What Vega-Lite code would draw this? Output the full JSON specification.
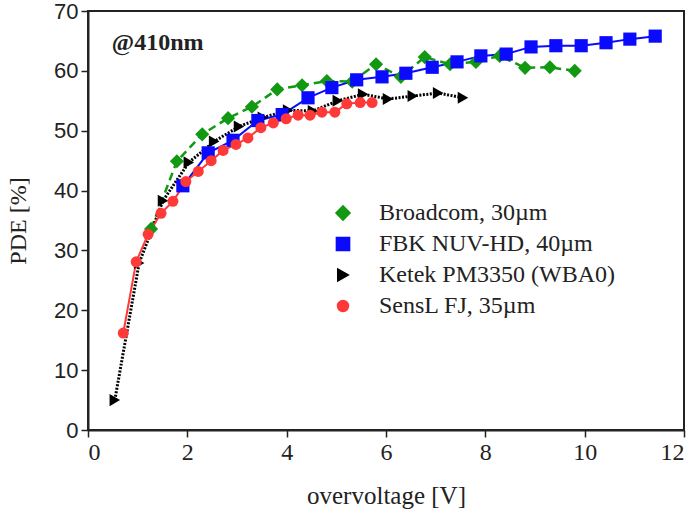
{
  "$schema": "https://vega.github.io/schema/vega-lite/v6.json",
  "width": 596,
  "height": 419,
  "autosize": "none",
  "padding": {"left": 88, "top": 11, "right": 13, "bottom": 87},
  "background": "white",
  "config": {
    "view": {"stroke": "#222", "strokeWidth": 2},
    "axis": {"grid": false, "domainColor": "#222", "domainWidth": 2, "tickColor": "#222", "tickWidth": 1.5, "tickSize": 7, "labelColor": "#222", "titleColor": "#222", "titleFontWeight": "normal"}
  },
  "layer": [
    {
      "data": {"name": "pts", "values": [
    {"s": "Broadcom, 30µm", "x": 1.27, "y": 33.6},
    {"s": "Broadcom, 30µm", "x": 1.79, "y": 44.9},
    {"s": "Broadcom, 30µm", "x": 2.3, "y": 49.4},
    {"s": "Broadcom, 30µm", "x": 2.82, "y": 52.1},
    {"s": "Broadcom, 30µm", "x": 3.3, "y": 54.0},
    {"s": "Broadcom, 30µm", "x": 3.81, "y": 56.9},
    {"s": "Broadcom, 30µm", "x": 4.31, "y": 57.6},
    {"s": "Broadcom, 30µm", "x": 4.81, "y": 58.3},
    {"s": "Broadcom, 30µm", "x": 5.32, "y": 58.2},
    {"s": "Broadcom, 30µm", "x": 5.8, "y": 61.1},
    {"s": "Broadcom, 30µm", "x": 6.3, "y": 59.0},
    {"s": "Broadcom, 30µm", "x": 6.78, "y": 62.3},
    {"s": "Broadcom, 30µm", "x": 7.29, "y": 61.1},
    {"s": "Broadcom, 30µm", "x": 7.81, "y": 61.5},
    {"s": "Broadcom, 30µm", "x": 8.29, "y": 62.5},
    {"s": "Broadcom, 30µm", "x": 8.8, "y": 60.5},
    {"s": "Broadcom, 30µm", "x": 9.3, "y": 60.6},
    {"s": "Broadcom, 30µm", "x": 9.8, "y": 60.0},
    {"s": "Ketek PM3350 (WBA0)", "x": 0.54, "y": 5.0},
    {"s": "Ketek PM3350 (WBA0)", "x": 1.03, "y": 27.9},
    {"s": "Ketek PM3350 (WBA0)", "x": 1.51, "y": 38.3},
    {"s": "Ketek PM3350 (WBA0)", "x": 2.03, "y": 44.7},
    {"s": "Ketek PM3350 (WBA0)", "x": 2.54, "y": 48.2},
    {"s": "Ketek PM3350 (WBA0)", "x": 3.04, "y": 50.7},
    {"s": "Ketek PM3350 (WBA0)", "x": 3.52, "y": 52.2},
    {"s": "Ketek PM3350 (WBA0)", "x": 4.03, "y": 53.4},
    {"s": "Ketek PM3350 (WBA0)", "x": 4.53, "y": 53.3},
    {"s": "Ketek PM3350 (WBA0)", "x": 5.03, "y": 55.0},
    {"s": "Ketek PM3350 (WBA0)", "x": 5.54, "y": 56.1},
    {"s": "Ketek PM3350 (WBA0)", "x": 6.04, "y": 55.3},
    {"s": "Ketek PM3350 (WBA0)", "x": 6.54, "y": 55.8},
    {"s": "Ketek PM3350 (WBA0)", "x": 7.05, "y": 56.3},
    {"s": "Ketek PM3350 (WBA0)", "x": 7.55, "y": 55.5},
    {"s": "FBK NUV-HD, 40µm", "x": 1.91, "y": 40.8},
    {"s": "FBK NUV-HD, 40µm", "x": 2.42, "y": 46.3},
    {"s": "FBK NUV-HD, 40µm", "x": 2.92, "y": 48.4},
    {"s": "FBK NUV-HD, 40µm", "x": 3.42, "y": 51.7},
    {"s": "FBK NUV-HD, 40µm", "x": 3.91, "y": 52.7},
    {"s": "FBK NUV-HD, 40µm", "x": 4.43, "y": 55.5},
    {"s": "FBK NUV-HD, 40µm", "x": 4.91, "y": 57.2},
    {"s": "FBK NUV-HD, 40µm", "x": 5.41, "y": 58.5},
    {"s": "FBK NUV-HD, 40µm", "x": 5.92, "y": 59.0},
    {"s": "FBK NUV-HD, 40µm", "x": 6.4, "y": 59.6},
    {"s": "FBK NUV-HD, 40µm", "x": 6.93, "y": 60.6},
    {"s": "FBK NUV-HD, 40µm", "x": 7.43, "y": 61.5},
    {"s": "FBK NUV-HD, 40µm", "x": 7.91, "y": 62.5},
    {"s": "FBK NUV-HD, 40µm", "x": 8.42, "y": 62.8},
    {"s": "FBK NUV-HD, 40µm", "x": 8.92, "y": 64.0},
    {"s": "FBK NUV-HD, 40µm", "x": 9.42, "y": 64.2},
    {"s": "FBK NUV-HD, 40µm", "x": 9.93, "y": 64.2},
    {"s": "FBK NUV-HD, 40µm", "x": 10.43, "y": 64.7},
    {"s": "FBK NUV-HD, 40µm", "x": 10.91, "y": 65.3},
    {"s": "FBK NUV-HD, 40µm", "x": 11.42, "y": 65.8},
    {"s": "SensL FJ, 35µm", "x": 0.71, "y": 16.2},
    {"s": "SensL FJ, 35µm", "x": 0.97, "y": 28.1},
    {"s": "SensL FJ, 35µm", "x": 1.21, "y": 32.7},
    {"s": "SensL FJ, 35µm", "x": 1.47, "y": 36.2},
    {"s": "SensL FJ, 35µm", "x": 1.71, "y": 38.2},
    {"s": "SensL FJ, 35µm", "x": 1.97, "y": 41.5},
    {"s": "SensL FJ, 35µm", "x": 2.22, "y": 43.2},
    {"s": "SensL FJ, 35µm", "x": 2.48, "y": 45.0},
    {"s": "SensL FJ, 35µm", "x": 2.72, "y": 46.7},
    {"s": "SensL FJ, 35µm", "x": 2.98, "y": 47.7},
    {"s": "SensL FJ, 35µm", "x": 3.22, "y": 48.8},
    {"s": "SensL FJ, 35µm", "x": 3.48, "y": 50.5},
    {"s": "SensL FJ, 35µm", "x": 3.73, "y": 51.3},
    {"s": "SensL FJ, 35µm", "x": 3.99, "y": 52.0},
    {"s": "SensL FJ, 35µm", "x": 4.23, "y": 52.6},
    {"s": "SensL FJ, 35µm", "x": 4.47, "y": 52.6},
    {"s": "SensL FJ, 35µm", "x": 4.71, "y": 53.1},
    {"s": "SensL FJ, 35µm", "x": 4.97, "y": 53.1},
    {"s": "SensL FJ, 35µm", "x": 5.21, "y": 54.5},
    {"s": "SensL FJ, 35µm", "x": 5.48, "y": 54.7},
    {"s": "SensL FJ, 35µm", "x": 5.72, "y": 54.7}
      ]},
      "encoding": {
        "x": {"field": "x", "type": "quantitative", "scale": {"domain": [0, 12], "nice": false, "zero": false},
          "axis": {"values": [0, 2, 4, 6, 8, 10, 12], "title": "overvoltage [V]", "labelFont": "Liberation Serif", "labelFontSize": 24, "labelPadding": 3, "titleFont": "Liberation Serif", "titleFontSize": 25, "titleBaseline": "alphabetic", "titleY": 73}},
        "y": {"field": "y", "type": "quantitative", "scale": {"domain": [0, 70], "nice": false},
          "axis": {"values": [0, 10, 20, 30, 40, 50, 60, 70], "title": "PDE [%]", "labelFont": "Liberation Sans", "labelFontSize": 22, "labelPadding": 3, "titleFont": "Liberation Serif", "titleFontSize": 24, "titleBaseline": "alphabetic", "titleX": -63}},
        "color": {"field": "s", "type": "nominal",
          "scale": {"domain": ["Broadcom, 30µm", "FBK NUV-HD, 40µm", "Ketek PM3350 (WBA0)", "SensL FJ, 35µm"], "range": ["#129912", "#0a0aff", "#000000", "#ff3838"]},
          "legend": {"title": null, "orient": "none", "legendX": 222, "legendY": 190,
            "labelFont": "Liberation Serif", "labelFontSize": 24, "labelColor": "#222", "labelLimit": 400,
            "symbolSize": 150, "symbolOffset": 21, "labelOffset": 24, "rowPadding": 7, "symbolOpacity": 1}}
      },
      "layer": [
        {
          "transform": [{"filter": "datum.s === 'Broadcom, 30µm'"}],
          "mark": {"type": "line", "strokeDash": [8, 5], "strokeWidth": 2.5}
        },
        {
          "transform": [{"filter": "datum.s === 'Ketek PM3350 (WBA0)'"}],
          "mark": {"type": "line", "strokeDash": [2, 1.5], "strokeWidth": 3}
        },
        {
          "transform": [{"filter": "datum.s === 'FBK NUV-HD, 40µm'"}],
          "mark": {"type": "line", "strokeWidth": 2}
        },
        {
          "transform": [{"filter": "datum.s === 'SensL FJ, 35µm'"}],
          "mark": {"type": "line", "strokeWidth": 2}
        },
        {
          "mark": {"type": "point", "filled": true, "opacity": 1},
          "encoding": {
            "shape": {"field": "s", "type": "nominal",
              "scale": {"domain": ["Broadcom, 30µm", "FBK NUV-HD, 40µm", "Ketek PM3350 (WBA0)", "SensL FJ, 35µm"], "range": ["diamond", "square", "triangle-right", "circle"]}},
            "size": {"field": "s", "type": "nominal", "legend": null,
              "scale": {"domain": ["Broadcom, 30µm", "FBK NUV-HD, 40µm", "Ketek PM3350 (WBA0)", "SensL FJ, 35µm"], "range": [200, 121, 170, 150]}}
          }
        }
      ]
    },
    {
      "data": {"values": [{"t": "@410nm"}]},
      "mark": {"type": "text", "font": "Liberation Serif", "fontSize": 24, "fontWeight": "bold", "align": "left", "baseline": "alphabetic", "color": "#222"},
      "encoding": {"x": {"datum": 0.48}, "y": {"datum": 63.5}, "text": {"field": "t"}}
    }
  ]
}
